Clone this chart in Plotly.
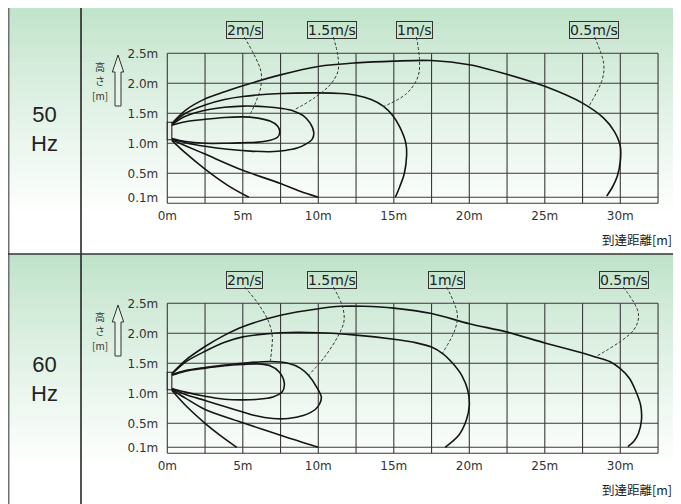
import plotly.graph_objects as go

# ---------------- data ----------------
x_ticks = [0, 5, 10, 15, 20, 25, 30]
x_tick_text = ["0m", "5m", "10m", "15m", "20m", "25m", "30m"]
y_ticks = [0.1, 0.5, 1.0, 1.5, 2.0, 2.5]
y_tick_text = ["0.1m", "0.5m", "1.0m", "1.5m", "2.0m", "2.5m"]
grid_x = [0, 2.5, 5, 7.5, 10, 12.5, 15, 17.5, 20, 22.5, 25, 27.5, 30, 32.5]
grid_y = [0, 0.1, 0.5, 1.0, 1.5, 2.0, 2.5]
speed_labels = ["2m/s", "1.5m/s", "1m/s", "0.5m/s"]
panel_names = ["50<br>Hz", "60<br>Hz"]

# 50 Hz contours
hz50_v2_x = [0.3, 1.2, 2.5, 3.8, 5, 6.0, 6.8, 7.3, 7.45, 7.3, 6.8, 6.0, 5, 3.8, 2.5, 1.2, 0.3]
hz50_v2_y = [1.30, 1.36, 1.40, 1.43, 1.44, 1.42, 1.37, 1.29, 1.19, 1.10, 1.05, 1.02, 1.01, 1.0, 1.0, 1.03, 1.08]
hz50_v15_x = [0.3, 1.2, 2.5, 3.8, 5, 6.5, 7.6, 8.35, 9.0, 9.45, 9.7, 9.6, 9.2, 8.6, 7.8, 6.8, 5.5, 4, 2.5, 1.2, 0.3]
hz50_v15_y = [1.31, 1.45, 1.55, 1.60, 1.62, 1.61, 1.58, 1.54, 1.46, 1.34, 1.18, 1.07, 0.99, 0.92, 0.88, 0.86, 0.87, 0.90, 0.95, 1.01, 1.07]
hz50_v1_x = [0.3, 1.2, 2.5, 3.8, 5, 7.5, 10, 11.5, 12.5, 13.5, 14.3, 14.9, 15.4, 15.8, 15.85, 15.7, 15.4, 15.1]
hz50_v1_y = [1.32, 1.50, 1.64, 1.73, 1.78, 1.83, 1.84, 1.83, 1.80, 1.73, 1.62, 1.47, 1.27, 1.0, 0.8, 0.5, 0.28, 0.1]
hz50_v05_x = [0.3, 1.2, 2.5, 3.8, 5, 7.5, 10, 12.5, 15, 17.5, 20, 22.5, 25, 27.5, 28.9, 29.6, 30.0, 30.0, 29.8, 29.5, 29.1]
hz50_v05_y = [1.33, 1.55, 1.74, 1.86, 1.96, 2.14, 2.28, 2.34, 2.37, 2.38, 2.31, 2.15, 1.95, 1.67, 1.42, 1.2, 0.95, 0.7, 0.45, 0.28, 0.12]
hz50_floorA_x = [0.3, 1.2, 2.5, 4, 5.4]
hz50_floorA_y = [1.05, 0.84, 0.57, 0.3, 0.1]
hz50_floorB_x = [0.3, 1.2, 2.5, 5, 7.5, 8.8, 10]
hz50_floorB_y = [1.06, 0.96, 0.82, 0.55, 0.33, 0.2, 0.1]
hz50_label_x = [5.11, 10.94, 16.37, 28.23]
hz50_lead_x = [[5.1, 5.7, 6.2, 6.2, 5.8, 5.4],
               [11.0, 11.3, 11.3, 10.8, 9.7, 8.35],
               [16.5, 16.7, 16.6, 15.85, 14.3],
               [28.3, 28.9, 28.8, 27.9]]
hz50_lead_y = [[2.77, 2.5, 2.2, 1.95, 1.65, 1.44],
               [2.77, 2.45, 2.2, 1.98, 1.75, 1.55],
               [2.77, 2.39, 2.11, 1.83, 1.61],
               [2.77, 2.33, 2.06, 1.61]]

# 60 Hz contours
hz60_v2_x = [0.3, 1.2, 2.5, 3.8, 5, 6.0, 6.8, 7.4, 7.75, 7.6, 7.0, 6.0, 5, 3.8, 2.5, 1.2, 0.3]
hz60_v2_y = [1.30, 1.37, 1.42, 1.46, 1.48, 1.49, 1.46, 1.36, 1.17, 1.02, 0.94, 0.90, 0.89, 0.90, 0.95, 1.02, 1.08]
hz60_v15_x = [0.3, 1.2, 2.5, 3.8, 5, 6.8, 8.0, 8.8, 9.35, 9.9, 10.2, 10.1, 9.8, 9.0, 8.0, 7.0, 5.8, 5, 3.8, 2.5, 1.2, 0.3]
hz60_v15_y = [1.31, 1.38, 1.43, 1.47, 1.50, 1.53, 1.50, 1.42, 1.30, 1.10, 0.94, 0.83, 0.73, 0.63, 0.58, 0.58, 0.63, 0.69, 0.78, 0.88, 0.98, 1.07]
hz60_v1_x = [0.3, 1.2, 2.5, 3.8, 5, 6.5, 7.5, 10, 12.5, 15, 16.5, 17.5, 18.3, 18.9, 19.5, 19.9, 20.0, 19.8, 19.3, 18.4]
hz60_v1_y = [1.32, 1.52, 1.70, 1.85, 1.94, 1.99, 2.01, 2.01, 1.97, 1.90, 1.84, 1.77, 1.65, 1.5, 1.3, 1.05, 0.8, 0.55, 0.3, 0.1]
hz60_v05_x = [0.3, 1.2, 2.5, 3.8, 5, 7.5, 10, 11.5, 13, 15, 17.5, 20, 22.5, 25, 27.5, 28.3, 29.3, 30, 30.6, 31.0, 31.35, 31.4, 31.2, 30.9, 30.5]
hz60_v05_y = [1.33, 1.55, 1.78, 1.97, 2.11, 2.30, 2.41, 2.45, 2.45, 2.42, 2.33, 2.16, 2.02, 1.84, 1.67, 1.61, 1.53, 1.41, 1.25, 1.05, 0.8, 0.55, 0.33, 0.2, 0.11]
hz60_floorA_x = [0.3, 1.2, 2.5, 3.5, 4.6]
hz60_floorA_y = [1.05, 0.80, 0.50, 0.30, 0.10]
hz60_floorB_x = [0.3, 1.2, 2.5, 5, 7.5, 10]
hz60_floorB_y = [1.06, 0.92, 0.73, 0.51, 0.30, 0.10]
hz60_label_x = [5.11, 10.94, 18.46, 30.25]
hz60_lead_x = [[5.13, 6.0, 6.7, 6.95, 6.9, 6.8],
               [11.0, 11.6, 11.7, 11.3, 10.4, 9.35],
               [18.5, 19.2, 19.05, 18.2],
               [30.2, 31.2, 30.9, 28.3]]
hz60_lead_y = [[2.77, 2.5, 2.2, 1.95, 1.7, 1.48],
               [2.77, 2.45, 2.2, 1.95, 1.6, 1.30],
               [2.77, 2.33, 2.06, 1.66],
               [2.77, 2.33, 2.06, 1.60]]

label_y = 2.888

panels = [
    dict(curves=[(hz50_v2_x, hz50_v2_y), (hz50_v15_x, hz50_v15_y), (hz50_v1_x, hz50_v1_y),
                 (hz50_v05_x, hz50_v05_y), (hz50_floorA_x, hz50_floorA_y), (hz50_floorB_x, hz50_floorB_y)],
         label_x=hz50_label_x, lead_x=hz50_lead_x, lead_y=hz50_lead_y),
    dict(curves=[(hz60_v2_x, hz60_v2_y), (hz60_v15_x, hz60_v15_y), (hz60_v1_x, hz60_v1_y),
                 (hz60_v05_x, hz60_v05_y), (hz60_floorA_x, hz60_floorA_y), (hz60_floorB_x, hz60_floorB_y)],
         label_x=hz60_label_x, lead_x=hz60_lead_x, lead_y=hz60_lead_y),
]

# ---------------- layout geometry (window pixels) ----------------
WIN_W, WIN_H = 681, 504
OFF = 8                                # page body margin
W, H = WIN_W - OFF, WIN_H - OFF        # figure size that fits the window
X0_PX, PX_PER_M = 167.3, 15.1          # window pixel of 0 m and scale
ROW_TOP = [4, 254]
ROW_BOT = [254, 504]
GRID0 = [203.3, 453.3]                 # window pixel of 0 m height per row
PY_PER_M = 60.0


def pxp(px):
    return (px - OFF) / W


def pyp(py):
    return 1 - (py - OFF) / H


x_range = [(OFF - X0_PX) / PX_PER_M, (WIN_W - X0_PX) / PX_PER_M]
row_dom_top = [OFF, 254]
y_ranges = [[(GRID0[r] - ROW_BOT[r]) / PY_PER_M, (GRID0[r] - row_dom_top[r]) / PY_PER_M] for r in range(2)]
y_domains = [[pyp(ROW_BOT[r]), pyp(row_dom_top[r])] for r in range(2)]

FONT = "DejaVu Sans"
JFONT = "Noto Sans CJK JP"

fig = go.Figure()
shapes = []
annotations = []

# gradient background bands
top_rgb = (190, 226, 200)
nb = 60
for r in range(2):
    t0 = ROW_TOP[r]
    for i in range(nb):
        f0 = i / nb
        f = min(1.0, (f0 / 0.85)) ** 0.85
        c = tuple(int(round(top_rgb[k] + (255 - top_rgb[k]) * f)) for k in range(3))
        ya_ = t0 + 250 * i / nb
        yb_ = t0 + 250 * (i + 1) / nb + 0.6
        shapes.append(dict(type="rect", xref="paper", yref="paper", layer="below",
                           x0=pxp(7), x1=1, y0=max(0, pyp(yb_)), y1=min(1, pyp(ya_)),
                           line=dict(width=0), fillcolor="rgb(%d,%d,%d)" % c))

for r, p in enumerate(panels):
    xa = "x" if r == 0 else "x2"
    ya = "y" if r == 0 else "y2"
    t = ROW_TOP[r] - 4
    # grid
    for gx in grid_x:
        shapes.append(dict(type="line", xref=xa, yref=ya, x0=gx, x1=gx, y0=0, y1=2.5,
                           line=dict(color="#3a3a3a", width=1.1), layer="below"))
    for gy in grid_y:
        shapes.append(dict(type="line", xref=xa, yref=ya, x0=0, x1=32.5, y0=gy, y1=gy,
                           line=dict(color="#3a3a3a", width=1.1), layer="below"))
    # outlet box
    shapes.append(dict(type="rect", xref=xa, yref=ya, x0=0, x1=0.3, y0=1.06, y1=1.35,
                       line=dict(color="#222", width=1.1), fillcolor="#e8efe9"))
    # contour curves
    for cx, cy in p["curves"]:
        fig.add_trace(go.Scatter(x=cx, y=cy, mode="lines", xaxis=xa, yaxis=ya,
                                 line=dict(color="#151515", width=1.6, shape="spline", smoothing=0.9),
                                 hoverinfo="skip", showlegend=False))
    # leader lines
    for lx, ly in zip(p["lead_x"], p["lead_y"]):
        fig.add_trace(go.Scatter(x=lx, y=ly, mode="lines", xaxis=xa, yaxis=ya,
                                 line=dict(color="#333", width=1, dash="3px,2px", shape="spline"),
                                 hoverinfo="skip", showlegend=False))
    # speed label boxes
    for txt, lx in zip(speed_labels, p["label_x"]):
        annotations.append(dict(xref=xa, yref=ya, x=lx, y=label_y, text=txt, showarrow=False,
                                xanchor="center", yanchor="middle",
                                font=dict(family=FONT, size=14, color="#222"),
                                bordercolor="#333", borderwidth=1, borderpad=0,
                                bgcolor="rgba(0,0,0,0)"))
    # x axis title
    annotations.append(dict(xref=xa, yref=ya, x=(674 - X0_PX) / PX_PER_M,
                            y=(GRID0[r] - (239 + t)) / PY_PER_M,
                            text="到達距離[m]", showarrow=False, xanchor="right", yanchor="middle",
                            font=dict(family=JFONT, size=12.5, color="#222")))
    # y axis title, stacked characters
    for ch, cy in zip(["高", "さ", "[m]"], [66, 80, 95]):
        annotations.append(dict(xref=xa, yref=ya, x=(100 - X0_PX) / PX_PER_M,
                                y=(GRID0[r] - (cy + t)) / PY_PER_M,
                                text=ch, showarrow=False, borderpad=0,
                                xanchor="center", yanchor="middle",
                                font=dict(family=JFONT, size=10, color="#333")))
    # up arrow (hollow)
    pts = [(115, 106), (115, 72), (112.3, 72), (118, 55), (123.7, 72), (121, 72), (121, 106)]
    path = "M " + " L ".join("%.5f,%.5f" % (pxp(px), pyp(py + t)) for px, py in pts) + " Z"
    shapes.append(dict(type="path", xref="paper", yref="paper", path=path,
                       line=dict(color="#333", width=1), fillcolor="rgba(255,255,255,0.3)"))
    # frequency label
    annotations.append(dict(xref="paper", yref="paper", x=pxp(44), y=pyp(129 + t),
                            xanchor="center", yanchor="middle",
                            text=panel_names[r], showarrow=False,
                            font=dict(family="Liberation Sans", size=22, color="#222")))

# table borders
shapes.append(dict(type="line", xref="paper", yref="paper", x0=pxp(8.5), x1=pxp(8.5), y0=0, y1=1,
                   line=dict(color="#707070", width=2)))
shapes.append(dict(type="line", xref="paper", yref="paper", x0=pxp(81), x1=pxp(81), y0=0, y1=1,
                   line=dict(color="#1a1a1a", width=1.5)))
shapes.append(dict(type="line", xref="paper", yref="paper", x0=pxp(7), x1=1, y0=pyp(254), y1=pyp(254),
                   line=dict(color="#333", width=1.5)))

axis_common = dict(showgrid=False, zeroline=False, showline=False, fixedrange=True)
layout = dict(width=W, height=H, margin=dict(l=0, r=0, t=0, b=0),
              paper_bgcolor="white", plot_bgcolor="rgba(0,0,0,0)",
              shapes=shapes, annotations=annotations, showlegend=False)
for r in range(2):
    sx = "" if r == 0 else "2"
    layout["xaxis" + sx] = dict(axis_common, domain=[0, 1], range=x_range,
                                anchor="free", position=pyp(GRID0[r]),
                                tickvals=x_ticks, ticktext=x_tick_text, ticks="",
                                ticklabelstandoff=4,
                                tickfont=dict(family=FONT, size=12, color="#333"))
    layout["yaxis" + sx] = dict(axis_common, domain=y_domains[r], range=y_ranges[r],
                                anchor="free", position=pxp(X0_PX),
                                tickvals=y_ticks, ticktext=y_tick_text, ticks="",
                                ticklabelstandoff=9,
                                tickfont=dict(family=FONT, size=12, color="#333"))
fig.update_layout(**layout)
fig.write_html("out.html")
